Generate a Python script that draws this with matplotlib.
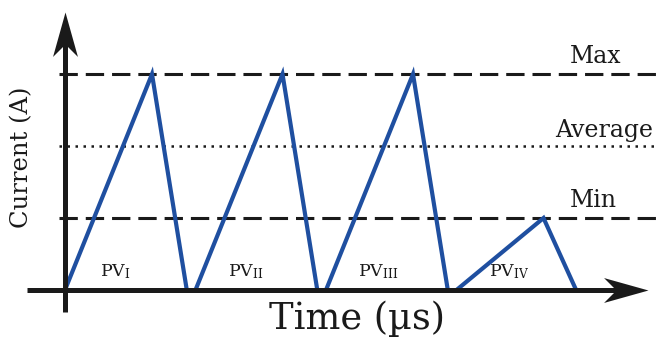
import matplotlib.pyplot as plt
from matplotlib.path import Path

plt.rcParams['font.family'] = 'DejaVu Serif'
plt.rcParams['mathtext.fontset'] = 'dejavuserif'

# current levels (arbitrary units)
i_max = 3.0
i_avg = 2.0
i_min = 1.0

# triangle pulses: start, peak, end time and peak current
t_start = [0.0, 3.0, 6.0, 9.0]
t_peak = [2.0, 5.0, 8.0, 11.0]
t_end = [2.8, 5.8, 8.8, 11.75]
i_peak = [3.0, 3.0, 3.0, 1.0]
labels = ["I", "II", "III", "IV"]
label_t = [1.15, 4.16, 7.2, 10.2]

blue = "#1f4fa0"
black = "#1a1a1a"

fig = plt.figure(figsize=(6.56, 3.38), dpi=100)
ax = fig.add_axes([0, 0, 1, 1])
ax.set_xlim(-1.494, 13.586)
ax.set_ylim(-0.667, 4.03)
ax.axis("off")

# reference levels
ax.axhline(i_max, xmin=0.09, color=black, lw=2.2, dashes=(6, 2.6))
ax.axhline(i_min, xmin=0.09, color=black, lw=2.2, dashes=(6, 2.6))
ax.axhline(i_avg, xmin=0.09, color=black, lw=1.8, ls=(0, (1, 2.2)))

ax.text(12.2, i_max + 0.16, "Max", fontsize=17, ha="center", va="baseline", color=black)
ax.text(12.39, i_avg + 0.12, "Average", fontsize=17, ha="center", va="baseline", color=black)
ax.text(12.15, i_min + 0.16, "Min", fontsize=17, ha="center", va="baseline", color=black)

# pulses
for k in range(len(t_start)):
    ax.plot([t_start[k], t_peak[k], t_end[k]], [0, i_peak[k], 0],
            color=blue, lw=3, solid_joinstyle="miter", zorder=3)
    ax.text(label_t[k], 0.25, "PV$_{\\mathrm{" + labels[k] + "}}$", fontsize=12.5,
            ha="center", va="center", color=black)

# axes with stealth arrow heads
x_tip = 13.4
y_tip = 3.86
ax.plot([-0.87, x_tip - 0.6], [0, 0], color=black, lw=3.6, solid_capstyle="butt", zorder=5)
ax.plot([0, 0], [-0.31, y_tip - 0.4], color=black, lw=3.6, solid_capstyle="butt", zorder=5)

head_r = Path([(0, 0), (-1, 0.28), (-0.72, 0), (-1, -0.28), (0, 0)],
              [Path.MOVETO, Path.LINETO, Path.LINETO, Path.LINETO, Path.CLOSEPOLY])
head_u = Path([(0, 0), (0.28, -1), (0, -0.72), (-0.28, -1), (0, 0)],
              [Path.MOVETO, Path.LINETO, Path.LINETO, Path.LINETO, Path.CLOSEPOLY])
ax.plot([x_tip], [0], marker=head_r, ms=64, color=black, mew=0, zorder=6)
ax.plot([0], [y_tip], marker=head_u, ms=64, color=black, mew=0, zorder=6)

ax.text(6.72, -0.54, "Time (µs)", fontsize=26.5, ha="center", va="baseline", color=black)
ax.text(-0.99, 1.85, "Current (A)", fontsize=17.5, rotation=90, ha="center",
        va="center", color=black)

fig.savefig("out.png", dpi=100)
